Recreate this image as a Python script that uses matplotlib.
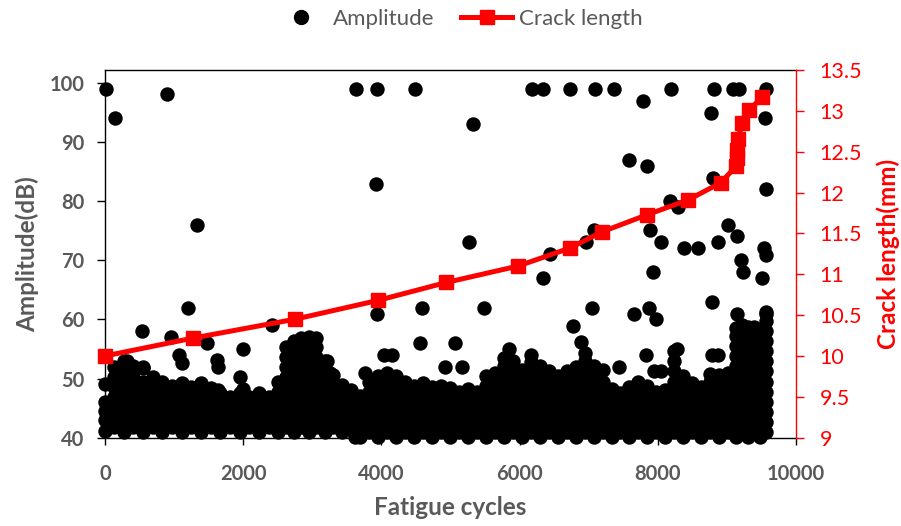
import matplotlib
matplotlib.use('Agg')
import matplotlib.pyplot as plt
from matplotlib.lines import Line2D

# ---------------- data ----------------
# Crack length (right axis)
crack_cycles = [0, 1280, 2750, 3950, 4940, 5975, 6725, 7195, 7850, 8440, 8910,
                9130, 9140, 9150, 9160, 9225, 9320, 9515]
crack_mm = [10.0, 10.22, 10.45, 10.68, 10.9, 11.1, 11.32, 11.52, 11.73, 11.91, 12.12,
            12.32, 12.42, 12.52, 12.66, 12.85, 13.01, 13.17]

# Amplitude: isolated hits
hit_cycles = [14, 145, 894, 1328, 3637, 3937, 3922, 4482, 5328, 6183, 6342, 6723, 7086,
              7366, 8187, 8814, 9095, 9172, 9563, 7780, 8770, 9550, 7580, 7840, 8800,
              9560, 8170, 8290, 7071, 6960, 6440, 6337, 5265, 7883, 8052, 8375, 8588,
              8864, 9023, 9143, 9201, 9534, 9563, 9226, 9515, 7936,
              541, 1207, 956, 1483, 1990, 2415, 1077, 1111, 1618, 1642, 1956, 2004, 1642,
              314, 555, 3212, 3260, 3937, 4589, 4565, 5492, 5072, 4033, 4154, 4927, 5169,
              3767, 5844, 6158, 6770, 7042, 7655, 7873, 7970, 9153, 6893, 7825, 7438,
              8284, 8042, 7940, 8791, 8870, 8791, 9563, 3622]
hit_db = [99, 94, 98.2, 76, 99, 99, 83, 99, 93.1, 99, 99, 99, 99,
          99, 99, 99, 99, 99, 99, 97, 95, 94, 87, 86, 84,
          82, 80, 79, 75.2, 73.1, 71, 67, 73.1, 75.2, 73.1, 72.1, 72.1,
          73.1, 76, 74.1, 70, 72.1, 70.9, 68.1, 67, 68,
          58.1, 62, 57.1, 56, 55, 59, 54, 52.6, 53.1, 52, 50.3, 48.3, 48,
          53, 52, 53, 51, 61, 62, 56.1, 62, 56.1, 54, 54, 52, 52,
          51, 55, 54, 58.9, 62, 61, 62, 60, 61, 56.2, 54, 52,
          55, 51.2, 51.2, 54, 54, 63, 61.3, 40.1]

# Amplitude: dense band of hits, read column by column
band_cycles = [0, 130, 270, 410, 550, 690, 830, 970, 1110, 1250, 1390, 1530, 1670, 1810,
               1950, 2090, 2230, 2370, 2510, 2620, 2730, 2840, 2950, 3060, 3180, 3300,
               3430, 3560, 3690, 3820, 3950, 4080, 4210, 4340, 4470, 4600, 4730, 4860,
               4990, 5120, 5250, 5380, 5510, 5640, 5770, 5900, 6030, 6160, 6290, 6420,
               6550, 6680, 6810, 6940, 7070, 7200, 7330, 7460, 7590, 7720, 7850, 7980,
               8110, 8240, 8370, 8500, 8630, 8760, 8890, 9020, 9125, 9215, 9305, 9395,
               9480, 9560]
band_db = [
    [41.2, 43.0, 44.6, 46.0, 49.0],
    [41.8, 43.5, 45.2, 46.9, 48.6, 50.3, 52.0],
    [41.0, 42.7, 44.4, 46.1, 47.8, 49.5, 51.2, 53.0],
    [41.8, 43.5, 45.2, 46.9, 48.6, 50.3, 52.2],
    [41.0, 42.7, 44.4, 46.1, 47.8, 49.5, 51.8],
    [41.8, 43.5, 45.2, 46.9, 48.6, 50.2],
    [41.0, 42.7, 44.4, 46.1, 47.8, 49.4],
    [41.8, 43.5, 45.2, 46.9, 48.8],
    [41.0, 42.7, 44.4, 46.1, 47.8, 49.3],
    [41.8, 43.5, 45.2, 46.9, 48.6],
    [41.0, 42.7, 44.4, 46.1, 47.8, 49.2],
    [41.8, 43.5, 45.2, 46.9, 48.4],
    [41.0, 42.7, 44.4, 46.1, 47.6],
    [41.8, 43.5, 45.2, 46.9],
    [41.0, 42.7, 44.4, 46.1, 47.6],
    [41.8, 43.5, 45.2, 46.9],
    [41.0, 42.7, 44.4, 46.1, 47.5],
    [41.8, 43.5, 45.2, 46.9],
    [41.0, 42.7, 44.4, 46.1, 47.8, 49.5],
    [41.8, 43.5, 45.2, 46.9, 48.6, 50.3, 52.0, 53.7, 55.4],
    [41.0, 42.7, 44.4, 46.1, 47.8, 49.5, 51.2, 52.9, 54.6, 56.3],
    [41.8, 43.5, 45.2, 46.9, 48.6, 50.3, 52.0, 53.7, 55.4, 56.8],
    [41.0, 42.7, 44.4, 46.1, 47.8, 49.5, 51.2, 52.9, 54.6, 56.3, 57.0],
    [41.8, 43.5, 45.2, 46.9, 48.6, 50.3, 52.0, 53.7, 55.4, 56.8],
    [41.0, 42.7, 44.4, 46.1, 47.8, 49.5, 51.2, 53.0],
    [41.8, 43.5, 45.2, 46.9, 48.6, 50.6],
    [41.0, 42.7, 44.4, 46.1, 47.8, 48.9],
    [41.8, 43.5, 45.2, 46.9, 48.0],
    [40.2, 41.9, 43.6, 45.3, 47.0],
    [41.0, 42.7, 44.4, 46.1, 47.8, 49.5],
    [40.2, 41.9, 43.6, 45.3, 47.0, 48.7, 50.4],
    [41.0, 42.7, 44.4, 46.1, 47.8, 49.5, 50.9],
    [40.2, 41.9, 43.6, 45.3, 47.0, 48.7, 50.4],
    [41.0, 42.7, 44.4, 46.1, 47.8, 49.5],
    [40.2, 41.9, 43.6, 45.3, 47.0, 48.7],
    [41.0, 42.7, 44.4, 46.1, 47.8, 49.2],
    [40.2, 41.9, 43.6, 45.3, 47.0, 48.5],
    [41.0, 42.7, 44.4, 46.1, 47.8, 48.8],
    [40.2, 41.9, 43.6, 45.3, 47.0, 48.4],
    [41.0, 42.7, 44.4, 46.1, 47.8],
    [40.2, 41.9, 43.6, 45.3, 47.0, 48.3],
    [41.0, 42.7, 44.4, 46.1, 47.8],
    [40.2, 41.9, 43.6, 45.3, 47.0, 48.7, 50.4],
    [41.0, 42.7, 44.4, 46.1, 47.8, 49.5, 51.0],
    [40.2, 41.9, 43.6, 45.3, 47.0, 48.7, 50.4, 52.1, 53.5],
    [41.0, 42.7, 44.4, 46.1, 47.8, 49.5, 51.2, 52.9],
    [40.2, 41.9, 43.6, 45.3, 47.0, 48.7, 50.4, 51.5],
    [41.0, 42.7, 44.4, 46.1, 47.8, 49.5, 51.2, 52.8],
    [40.2, 41.9, 43.6, 45.3, 47.0, 48.7, 50.4, 52.1],
    [41.0, 42.7, 44.4, 46.1, 47.8, 49.5, 51.2],
    [40.2, 41.9, 43.6, 45.3, 47.0, 48.7, 50.4],
    [41.0, 42.7, 44.4, 46.1, 47.8, 49.5, 51.2],
    [40.2, 41.9, 43.6, 45.3, 47.0, 48.7, 50.4, 52.0],
    [41.0, 42.7, 44.4, 46.1, 47.8, 49.5, 51.2, 52.9, 54.3],
    [40.2, 41.9, 43.6, 45.3, 47.0, 48.7, 50.4, 52.1],
    [41.0, 42.7, 44.4, 46.1, 47.8, 49.5, 51.5],
    [40.2, 41.9, 43.6, 45.3, 47.0, 48.2],
    [41.0, 42.7, 44.4, 46.1, 47.5],
    [40.2, 41.9, 43.6, 45.3, 47.0, 48.6],
    [41.0, 42.7, 44.4, 46.1, 47.8, 49.4],
    [40.2, 41.9, 43.6, 45.3, 47.0, 48.7],
    [41.0, 42.7, 44.4, 46.1, 47.8],
    [40.2, 41.9, 43.6, 45.3, 47.0, 48.0],
    [41.0, 42.7, 44.4, 46.1, 47.8, 49.5, 51.2, 52.9, 54.6],
    [40.2, 41.9, 43.6, 45.3, 47.0, 48.7, 50.4],
    [41.0, 42.7, 44.4, 46.1, 47.8, 49.3],
    [40.2, 41.9, 43.6, 45.3, 47.0, 48.5],
    [41.0, 42.7, 44.4, 46.1, 47.8, 49.5, 50.8],
    [40.2, 41.9, 43.6, 45.3, 47.0, 48.7, 50.6],
    [41.0, 42.7, 44.4, 46.1, 47.8, 49.5, 51.0],
    [40.2, 41.9, 43.6, 45.3, 47.0, 48.7, 50.4, 52.1, 53.8, 55.5, 57.2, 58.5],
    [41.0, 42.7, 44.4, 46.1, 47.8, 49.5, 51.2, 52.9, 54.6, 56.3, 58.0, 59.0],
    [40.2, 41.9, 43.6, 45.3, 47.0, 48.7, 50.4, 52.1, 53.8, 55.5, 57.2, 58.8],
    [41.0, 42.7, 44.4, 46.1, 47.8, 49.5, 51.2, 52.9, 54.6, 56.3, 58.0, 58.8],
    [40.2, 41.9, 43.6, 45.3, 47.0, 48.7, 50.4, 52.1, 53.8, 55.5, 57.0],
    [41.0, 42.7, 44.4, 46.1, 47.8, 49.5, 51.2, 52.9, 54.6, 56.3, 58.0, 59.7, 61.0],
]

x_ticks = [0, 2000, 4000, 6000, 8000, 10000]
left_ticks = [40, 50, 60, 70, 80, 90, 100]
right_ticks = [9, 9.5, 10, 10.5, 11, 11.5, 12, 12.5, 13, 13.5]
right_tick_labels = ['9', '9.5', '10', '10.5', '11', '11.5', '12', '12.5', '13', '13.5']

# ---------------- figure ----------------
GRAY = '#595959'
RED = '#ff0000'
plt.rcParams['font.family'] = ['Lato', 'DejaVu Sans']

amp_x = list(hit_cycles)
amp_y = list(hit_db)
for cx, col in zip(band_cycles, band_db):
    for v in col:
        amp_x.append(cx)
        amp_y.append(v)

fig = plt.figure(figsize=(9.01, 5.26), dpi=100)
W, H = 901, 526
L, R, T, B = 105, 796, 70, 437.7
ax = fig.add_axes([L / W, 1 - B / H, (R - L) / W, (B - T) / H])

ax.scatter(amp_x, amp_y, s=108, c='black', linewidths=0, clip_on=False, zorder=2)
ax.set_xlim(0, 10000)
ax.set_ylim(40, 102.2)
ax.set_xticks(x_ticks)
ax.set_yticks(left_ticks)
ax.set_xticklabels([str(v) for v in x_ticks])
ax.set_yticklabels([str(v) for v in left_ticks])
for lab in ax.get_xticklabels() + ax.get_yticklabels():
    lab.set_fontweight('bold')
    lab.set_color(GRAY)
    lab.set_fontsize(14.5)
ax.tick_params(axis='y', direction='out', length=6, width=1, color='black', pad=9)
ax.tick_params(axis='x', direction='out', length=5, width=1, color='black', pad=14)
ax.spines['right'].set_visible(False)
for s in ['left', 'top', 'bottom']:
    ax.spines[s].set_linewidth(1.0)
    ax.spines[s].set_color('black')

ax.set_xlabel('Fatigue cycles', fontsize=17.5, fontweight='bold', color=GRAY)
ax.xaxis.set_label_coords(0.5, -(496 - B) / (B - T))
ax.set_ylabel('Amplitude(dB)', fontsize=17.5, fontweight='bold', color=GRAY)
ax.yaxis.set_label_coords(-(L - 39) / (R - L), 0.5)

ax2 = ax.twinx()
ax2.plot(crack_cycles, crack_mm, color=RED, lw=3.6, marker='s', ms=10,
         mec=RED, mfc=RED, clip_on=False, zorder=3)
ax2.set_ylim(9, 13.5)
ax2.set_yticks(right_ticks)
ax2.set_yticklabels(right_tick_labels)
for lab in ax2.get_yticklabels():
    lab.set_color(RED)
    lab.set_fontsize(15.5)
ax2.tick_params(axis='y', direction='out', length=6, width=1, color=RED, pad=11)
for s in ['left', 'top', 'bottom']:
    ax2.spines[s].set_visible(False)
ax2.spines['right'].set_color(RED)
ax2.spines['right'].set_linewidth(1.0)
ax2.set_ylabel('Crack length(mm)', fontsize=17.5, fontweight='bold', color=RED)
ax2.yaxis.set_label_coords(1 + (876 - R) / (R - L), 0.5)

handles = [
    Line2D([], [], ls='none', marker='o', ms=10, mfc='black', mec='black'),
    Line2D([], [], color=RED, lw=3.6, marker='s', ms=10),
]
leg = fig.legend(handles, ['Amplitude', 'Crack length'], loc='center left',
                 bbox_to_anchor=(275 / W, 1 - 19 / H), ncol=2, frameon=False,
                 fontsize=16, handlelength=2.3, columnspacing=1.2, handletextpad=0.3,
                 borderpad=0, borderaxespad=0)
for t in leg.get_texts():
    t.set_color(GRAY)

fig.savefig('out.png', dpi=100)
